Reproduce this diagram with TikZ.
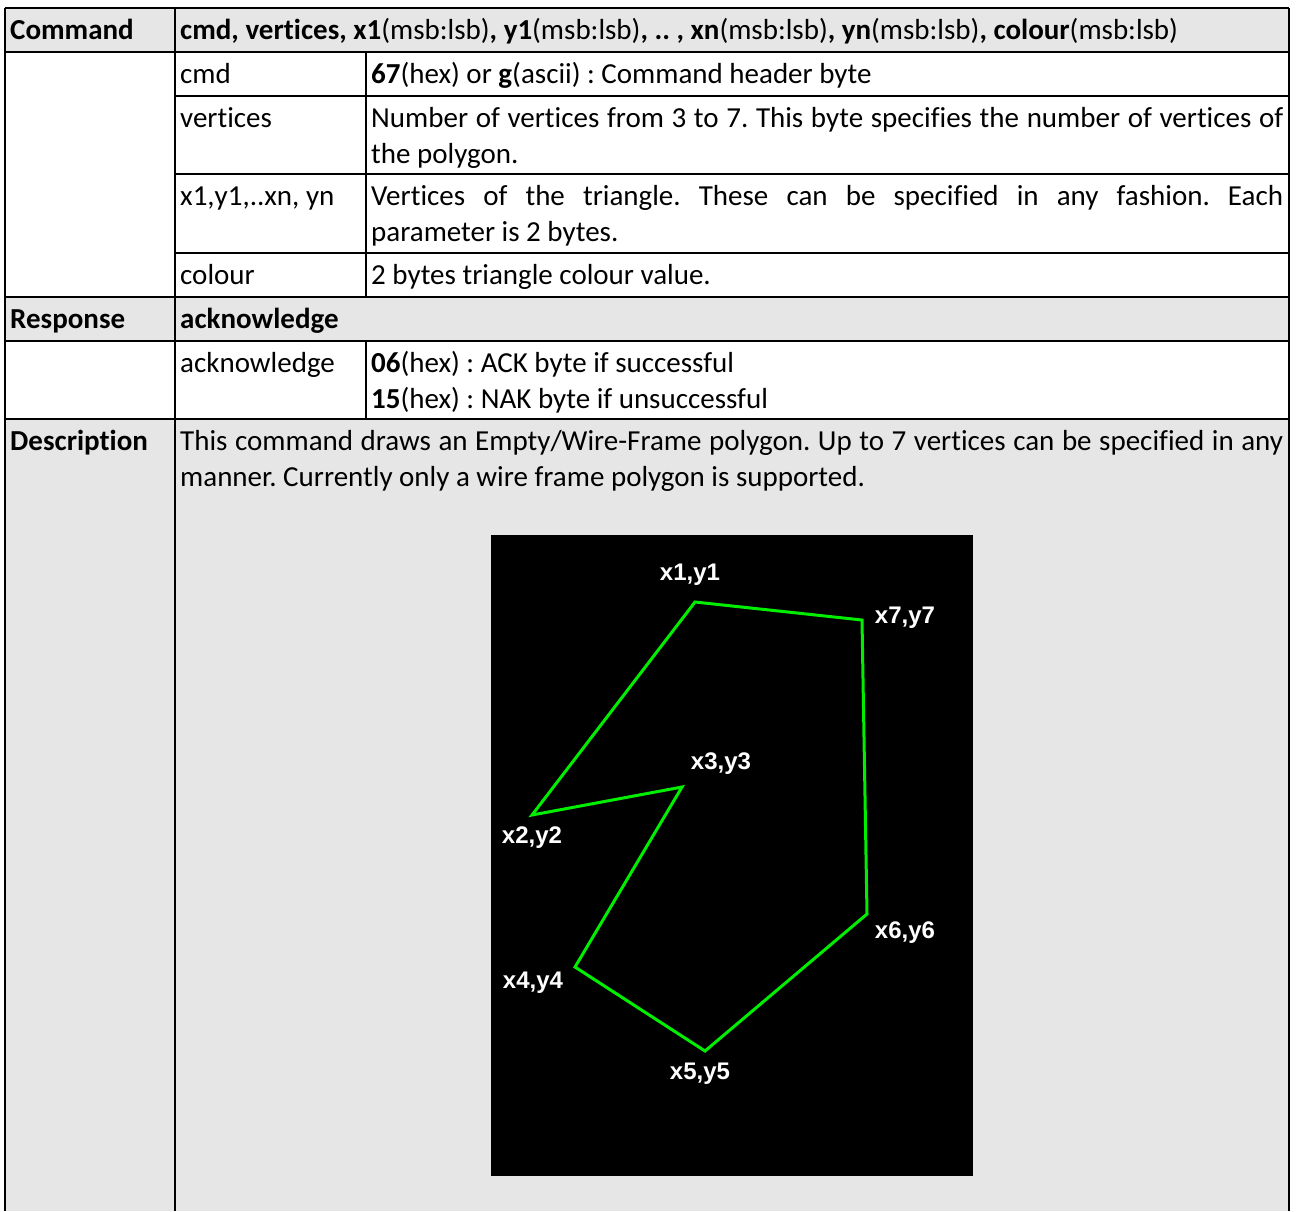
\documentclass[tikz,border=0pt]{standalone}
\usepackage{fontspec}
\setmainfont{Carlito}[Ligatures=NoCommon]
\newfontfamily\lcdfont{Liberation Sans}
\definecolor{cellgray}{HTML}{E6E6E6}
\definecolor{lcdgreen}{HTML}{00EE00}
\frenchspacing

\begin{document}
\begin{tikzpicture}[x=1pt,y=-1pt]
      \tikzstyle{cell}=[anchor=base west,inner sep=0pt,font=\fontsize{29}{36}\selectfont]
      \tikzstyle{rule}=[line width=1.3pt]
      \tikzstyle{vlabel}=[text=white,inner sep=0pt,font=\lcdfont\bfseries\fontsize{24}{24}\selectfont]
      \useasboundingbox (0,0) rectangle (1298,1211);

      % shaded rows
      \fill[cellgray] (5,8) rectangle (1289,52);
      \fill[cellgray] (5,297) rectangle (1289,341);
      \fill[cellgray] (5,419) rectangle (1289,1211);

      % grid
      \foreach \y in {8,52,297,341,419}
        \draw[rule] (5,\y) -- (1289,\y);
      \foreach \y in {96,174,253}
        \draw[rule] (175,\y) -- (1289,\y);
      \foreach \x in {5,175,1289}
        \draw[rule] (\x,8) -- (\x,1211);
      \draw[rule] (366,52) -- (366,297);
      \draw[rule] (366,341) -- (366,419);

      % Command
      \node[cell] (cmd-head) at (10,39) {\bfseries Command};
      \node[cell] (cmd-fmt) at (180,39) {\bfseries cmd, vertices, x1\mdseries(msb:lsb)\bfseries, y1\mdseries(msb:lsb)\bfseries, .. , xn\mdseries(msb:lsb)\bfseries, yn\mdseries(msb:lsb)\bfseries, colour\mdseries(msb:lsb)};
      \node[cell] (cmd-key) at (180,83) {cmd};
      \node[cell] (cmd-val) at (371,83) {\textbf{67}(hex) or \textbf{g}(ascii) : Command header byte};
      \node[cell] (vert-key) at (180,127) {vertices};
      \node[cell,text width=912pt,align=justify] (vert-val) at (371,127) {Number of vertices from 3 to 7. This byte specifies the number of vertices of\linebreak the polygon.};
      \node[cell] (xy-key) at (180,205) {x1,y1,..xn, yn};
      \node[cell,text width=912pt,align=justify] (xy-val) at (371,205) {Vertices of the triangle. These can be specified in any fashion. Each\linebreak parameter is 2 bytes.};
      \node[cell] (col-key) at (180,284) {colour};
      \node[cell] (col-val) at (371,284) {2 bytes triangle colour value.};

      % Response
      \node[cell] (resp-head) at (10,328) {\bfseries Response};
      \node[cell] (resp-fmt) at (180,328) {\bfseries acknowledge};
      \node[cell] (ack-key) at (180,372) {acknowledge};
      \node[cell] (ack-val) at (371,372) {\textbf{06}(hex) : ACK byte if successful};
      \node[cell] (nak-val) at (371,408) {\textbf{15}(hex) : NAK byte if unsuccessful};

      % Description
      \node[cell] (desc-head) at (10,450) {\bfseries Description};
      \node[cell,text width=1103pt,align=justify] (desc-val) at (180,450) {This command draws an Empty/Wire-Frame polygon. Up to 7 vertices can be specified in any\linebreak manner. Currently only a wire frame polygon is supported.};

      % screen shot
      \fill[black] (491,535) rectangle (973,1176);
      \foreach \name/\x/\y in {1/695/602, 2/532/815, 3/682/787, 4/575/967, 5/705/1051, 6/867/914, 7/862/620}
        \coordinate (v\name) at (\x,\y);
      \draw[lcdgreen,line width=3pt] (v1) -- (v2) -- (v3) -- (v4) -- (v5) -- (v6) -- (v7) -- cycle;
      \foreach \name/\txt/\x/\y in {1/{x1,y1}/690/575, 2/{x2,y2}/532/838, 3/{x3,y3}/721/764, 4/{x4,y4}/533/983, 5/{x5,y5}/700/1074, 6/{x6,y6}/905/933, 7/{x7,y7}/905/618}
        \node[vlabel] (l\name) at (\x,\y) {\txt};
\end{tikzpicture}
\end{document}
